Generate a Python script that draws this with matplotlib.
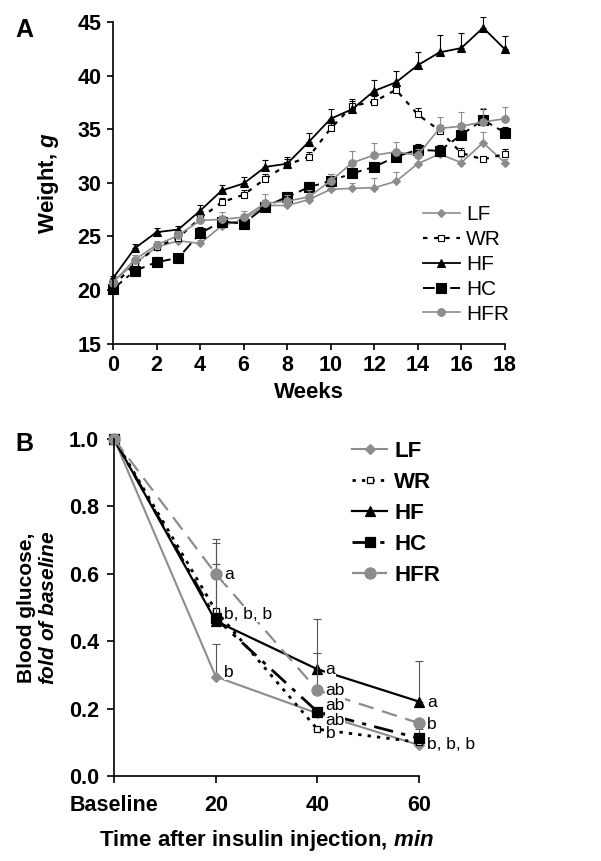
import matplotlib
matplotlib.use("Agg")
import matplotlib.pyplot as plt
import numpy as np

plt.rcParams['font.family'] = ['Liberation Sans', 'DejaVu Sans']
plt.rcParams['mathtext.fontset'] = 'custom'
plt.rcParams['mathtext.rm'] = 'Liberation Sans'
plt.rcParams['mathtext.it'] = 'Liberation Sans:italic'
plt.rcParams['mathtext.bf'] = 'Liberation Sans:bold'
plt.rcParams['mathtext.bfit'] = 'Liberation Sans:italic:bold'

# ---- panel A: body weight by week ----
weeks = list(range(19))
groups = ['LF', 'WR', 'HF', 'HC', 'HFR']
lf = [20.8, 22.5, 24.0, 24.6, 24.35, 26.0, 26.6, 27.9, 27.9, 28.45, 29.4, 29.5, 29.55, 30.15, 31.8, 32.7, 31.9, 33.75, 31.9]
wr = [20.4, 22.4, 24.0, 24.9, 26.7, 28.2, 28.9, 30.4, 31.7, 32.45, 35.1, 37.2, 37.6, 38.7, 36.4, 34.9, 32.8, 32.2, 32.7]
hf = [21.1, 23.9, 25.4, 25.65, 27.4, 29.3, 29.95, 31.5, 31.8, 33.85, 36.0, 36.9, 38.6, 39.4, 41.0, 42.2, 42.6, 44.5, 42.5]
hc = [20.1, 21.8, 22.6, 23.0, 25.3, 26.4, 26.2, 27.8, 28.7, 29.6, 30.2, 30.9, 31.5, 32.45, 33.1, 33.0, 34.5, 35.9, 34.7]
hfr = [20.7, 22.85, 24.2, 25.1, 26.5, 26.6, 26.8, 28.1, 28.3, 28.7, 30.2, 31.9, 32.6, 32.9, 32.6, 35.1, 35.3, 35.7, 36.0]
lf_err = [0.2, 0.3, 0.3, 0.3, 0.3, 0.4, 0.4, 0.4, 0.4, 0.4, 0.5, 0.5, 0.9, 0.85, 0.5, 0.5, 0.5, 1.0, 0.3]
wr_err = [0.2, 0.3, 0.3, 0.3, 0.4, 0.4, 0.4, 0.4, 0.5, 0.4, 0.5, 0.5, 0.5, 0.5, 0.6, 0.5, 0.5, 0.35, 0.5]
hf_err = [0.2, 0.4, 0.4, 0.35, 0.55, 0.5, 0.6, 0.65, 0.6, 0.85, 0.95, 0.9, 1.0, 1.1, 1.2, 1.6, 1.4, 1.0, 1.2]
hc_err = [0.2, 0.4, 0.5, 0.4, 0.6, 0.5, 0.5, 0.5, 0.5, 0.5, 0.6, 0.5, 0.5, 0.5, 0.5, 0.5, 0.5, 1.0, 0.5]
hfr_err = [0.2, 0.4, 0.4, 0.4, 0.5, 0.7, 0.6, 0.9, 0.6, 0.6, 0.6, 1.1, 1.1, 0.9, 0.6, 1.1, 1.3, 1.3, 1.1]

# ---- panel B: insulin tolerance ----
times = [0, 20, 40, 60]
time_labels = ['Baseline', '20', '40', '60']
glc_lf = [1.0, 0.295, 0.186, 0.092]
glc_wr = [1.0, 0.491, 0.139, 0.100]
glc_hf = [1.0, 0.460, 0.317, 0.221]
glc_hc = [1.0, 0.468, 0.191, 0.112]
glc_hfr = [1.0, 0.600, 0.255, 0.157]
glc_lf_err = [0, 0.097, 0.0, 0.0]
glc_wr_err = [0, 0.20, 0.0, 0.0]
glc_hf_err = [0, 0.0, 0.148, 0.121]
glc_hc_err = [0, 0.162, 0.0, 0.028]
glc_hfr_err = [0, 0.103, 0.109, 0.0]
# significance letters (time, value, text)
sig_t = [20, 20, 20, 40, 40, 40, 40, 40, 60, 60, 60]
sig_y = [0.597, 0.48, 0.307, 0.317, 0.253, 0.208, 0.166, 0.125, 0.218, 0.154, 0.095]
sig_txt = ['a', 'b, b, b', 'b', 'a', 'ab', 'ab', 'ab', 'b', 'a', 'b', 'b, b, b']

gray = '#8c8c8c'

fig = plt.figure(figsize=(6.01, 8.61), dpi=100)
axA = fig.add_axes([0.188, 0.601, 0.652, 0.373])
axB = fig.add_axes([0.190, 0.0987, 0.507, 0.3913])

# style per group: color, marker, ms, mfc, linestyle, lw
styleA = {
    'LF': (gray, 'D', 4.0, gray, '-', 1.2),
    'WR': ('black', 's', 4.5, 'white', (0, (2, 3)), 1.6),
    'HF': ('black', '^', 5.5, 'black', '-', 1.3),
    'HC': ('black', 's', 7.0, 'black', (0, (6, 3, 2, 3)), 1.4),
    'HFR': (gray, 'o', 5.5, gray, '-', 1.2),
}
dataA = {'LF': (lf, lf_err), 'WR': (wr, wr_err), 'HF': (hf, hf_err),
         'HC': (hc, hc_err), 'HFR': (hfr, hfr_err)}

for g in groups:
    c, m, ms, mfc, ls, lw = styleA[g]
    y, e = dataA[g]
    eb = axA.errorbar(weeks, y, yerr=[np.zeros(len(e)), e], fmt='none', ecolor=c,
                      elinewidth=0.8, capsize=2.5, capthick=0.8)
    for art in eb.lines[1] + eb.lines[2]:
        art.set_clip_on(False)
    axA.plot(weeks, y, color=c, marker=m, ms=ms, mfc=mfc, mec=c, mew=0.8,
             ls=ls, lw=lw, label=g, clip_on=False)

axA.set_xlim(0, 18)
axA.set_ylim(15, 45)
axA.set_xticks(range(0, 19, 2))
axA.set_yticks(range(15, 46, 5))
for s in ['top', 'right']:
    axA.spines[s].set_visible(False)
for s in ['left', 'bottom']:
    axA.spines[s].set_linewidth(1.2)
axA.tick_params(direction='out', length=4.5, width=1.2, labelsize=15.5, pad=4)
for lab in axA.get_xticklabels() + axA.get_yticklabels():
    lab.set_fontweight('bold')
axA.set_xlabel('Weeks', fontsize=16, fontweight='bold', labelpad=4)
axA.set_ylabel('Weight, $\\mathbfit{g}$', fontsize=16, fontweight='bold', labelpad=12)
axA.legend(loc='upper left', bbox_to_anchor=(0.79, 0.43), frameon=False,
           fontsize=15, handlelength=1.8, handletextpad=0.3, labelspacing=0.28,
           borderpad=0, borderaxespad=0)

styleB = {
    'LF': (gray, 'D', 5.5, gray, '-', 1.5),
    'WR': ('black', 's', 5.0, 'white', (0, (1.2, 2.2)), 2.0),
    'HF': ('black', '^', 6.5, 'black', '-', 1.6),
    'HC': ('black', 's', 6.5, 'black', (0, (7, 3, 1.5, 3)), 2.0),
    'HFR': (gray, 'o', 8.0, gray, (0, (7, 4)), 1.6),
}
dataB = {'LF': (glc_lf, glc_lf_err), 'WR': (glc_wr, glc_wr_err), 'HF': (glc_hf, glc_hf_err),
         'HC': (glc_hc, glc_hc_err), 'HFR': (glc_hfr, glc_hfr_err)}

for g in groups:
    c, m, ms, mfc, ls, lw = styleB[g]
    y, e = dataB[g]
    eb = axB.errorbar(times, y, yerr=[np.zeros(len(e)), e], fmt='none', ecolor='#555555',
                      elinewidth=0.8, capsize=3, capthick=0.8)
    for art in eb.lines[1] + eb.lines[2]:
        art.set_clip_on(False)
    axB.plot(times, y, color=c, marker=m, ms=ms, mfc=mfc, mec=c, mew=0.9,
             ls=ls, lw=lw, label=g, clip_on=False)

for t, v, s in zip(sig_t, sig_y, sig_txt):
    axB.annotate(s, (t, v), xytext=(6, 0), textcoords='offset points',
                 fontsize=12.5, va='center', ha='left', annotation_clip=False,
                 bbox=dict(facecolor='white', edgecolor='none', pad=0.3))

axB.set_xlim(0, 60)
axB.set_ylim(0, 1.0)
axB.set_xticks(times)
axB.set_xticklabels(time_labels)
axB.set_yticks(np.arange(0, 1.01, 0.2))
axB.set_yticklabels(['%.1f' % v for v in np.arange(0, 1.01, 0.2)])
for s in ['top', 'right']:
    axB.spines[s].set_visible(False)
for s in ['left', 'bottom']:
    axB.spines[s].set_linewidth(1.2)
axB.tick_params(direction='out', length=5, width=1.2, labelsize=15.5, pad=6)
axB.tick_params(axis='x', pad=9)
for lab in axB.get_xticklabels() + axB.get_yticklabels():
    lab.set_fontweight('bold')
axB.set_xlabel('Time after insulin injection, $\\mathbfit{min}$', fontsize=16,
               fontweight='bold', labelpad=8)
axB.set_ylabel('Blood glucose,\n$\\mathbfit{fold\\ of\\ baseline}$', fontsize=15,
               fontweight='bold', labelpad=8)
axB.legend(loc='upper left', bbox_to_anchor=(0.78, 0.995), frameon=False,
           prop={'size': 16, 'weight': 'bold'}, handlelength=1.6,
           handletextpad=0.3, labelspacing=0.45, borderpad=0, borderaxespad=0)

fig.text(0.025, 0.979, 'A', fontsize=18, fontweight='bold', va='top', ha='left')
fig.text(0.025, 0.498, 'B', fontsize=18, fontweight='bold', va='top', ha='left')

fig.savefig('out.png', dpi=100)
